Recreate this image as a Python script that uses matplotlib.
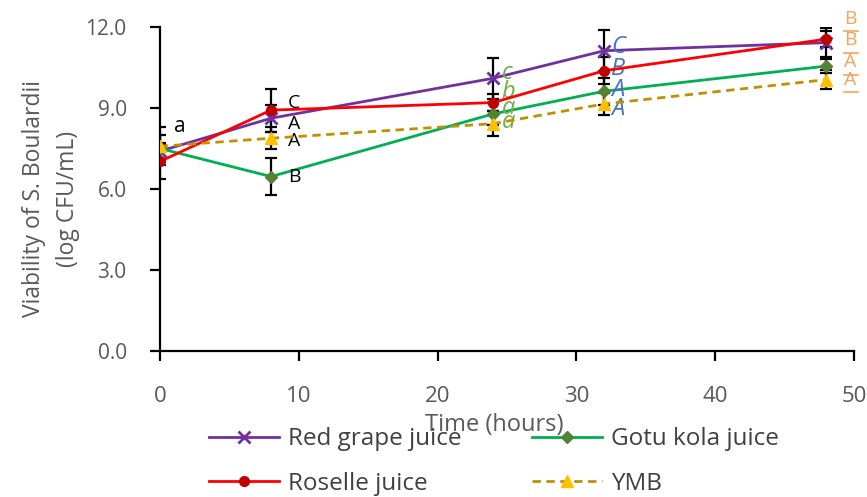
import matplotlib
matplotlib.use("Agg")
import matplotlib.pyplot as plt
import matplotlib.transforms as mtransforms
import numpy as np

plt.rcParams['font.family'] = ['Open Sans', 'DejaVu Sans']

time = [0, 8, 24, 32, 48]
red_grape = [7.4, 8.62, 10.1, 11.12, 11.42]
red_grape_err = [0.3, 0.5, 0.75, 0.75, 0.55]
roselle = [7.02, 8.92, 9.2, 10.38, 11.55]
roselle_err = [0.65, 0.8, 0.3, 0.5, 0.3]
gotu_kola = [7.5, 6.46, 8.78, 9.62, 10.55]
gotu_kola_err = [0.5, 0.7, 0.4, 0.5, 0.25]
ymb = [7.58, 7.88, 8.42, 9.15, 10.05]
ymb_err = [0.7, 0.4, 0.45, 0.4, 0.35]

labels_t8 = ["C", "A", "A", "B"]
labels_t8_y = [9.2, 8.4, 7.78, 6.45]
labels_t24 = ["c", "b", "a", "a"]
labels_t24_y = [10.3, 9.6, 9.0, 8.48]
labels_t32 = ["C", "B", "A", "A"]
labels_t32_y = [11.25, 10.45, 9.68, 8.95]
labels_t48 = ["B", "B", "A", "A"]
labels_t48_y = [12.3, 11.5, 10.7, 10.05]

fig = plt.figure(figsize=(8.67, 4.97), dpi=100)
ax = fig.add_axes([0.1845, 0.2938, 0.8005, 0.6519])

ebkw = dict(ecolor='black', elinewidth=1.6, capsize=4, capthick=1.6, zorder=2)
ax.errorbar(time, red_grape, yerr=red_grape_err, fmt='none', **ebkw)
ax.errorbar(time, roselle, yerr=roselle_err, fmt='none', **ebkw)
ax.errorbar(time, gotu_kola, yerr=gotu_kola_err, fmt='none', **ebkw)
ax.errorbar(time, ymb, yerr=ymb_err, fmt='none', **ebkw)

l1, = ax.plot(time, red_grape, color='#7030A0', lw=2, marker='x', ms=8, mew=2,
              label='Red grape juice', zorder=3)
l3, = ax.plot(time, gotu_kola, color='#00B050', lw=2, marker='D', ms=6,
              mfc='#548235', mec='#548235', label='Gotu kola juice', zorder=3)
l2, = ax.plot(time, roselle, color='#FF0000', lw=2, marker='o', ms=7,
              mfc='#C00000', mec='#C00000', label='Roselle juice', zorder=4)
l4, = ax.plot(time, ymb, color='#BF9000', lw=2, ls='--', dashes=(3, 2), marker='^', ms=8,
              mfc='#FFC000', mec='#FFC000', label='YMB', zorder=5)

ax.set_xlim(0, 50)
ax.set_ylim(0, 12)
ax.set_xticks([0, 10, 20, 30, 40, 50])
ax.set_yticks([0, 3, 6, 9, 12])
ax.set_yticklabels(['0.0', '3.0', '6.0', '9.0', '12.0'])
for s in ['top', 'right']:
    ax.spines[s].set_visible(False)
for s in ['left', 'bottom']:
    ax.spines[s].set_linewidth(1.6)
ax.tick_params(axis='both', colors='black', width=1.6, length=7,
               labelcolor='#595959')
ax.tick_params(axis='x', pad=18, labelsize=16)
ax.tick_params(axis='y', pad=17, labelsize=15)
ax.set_xlabel('Time (hours)', fontsize=17, color='#595959')
ax.xaxis.set_label_coords(0.481, -0.228)
ax.xaxis.label.set_va('center')
ax.set_ylabel('Viability of S. Boulardii\n(log CFU/mL)', fontsize=16.5, color='#595959',
              linespacing=1.55)
ax.yaxis.set_label_coords(-0.157, 0.47)
ax.yaxis.label.set_va('center')

ax.text(1.0, 8.3, 'a', fontsize=15, color='black', va='center', ha='left')
for t, yv in zip(labels_t8, labels_t8_y):
    ax.text(9.2, yv, t, fontsize=14, color='black', va='center', ha='left')
for t, yv in zip(labels_t24, labels_t24_y):
    ax.text(24.6, yv, t, fontsize=17, color='#70AD47', style='italic', va='center', ha='left')
for t, yv in zip(labels_t32, labels_t32_y):
    ax.text(32.5, yv, t, fontsize=17, color='#4472C4', style='italic', va='center', ha='left')
under = mtransforms.offset_copy(ax.transData, fig=fig, x=0, y=-9, units='points')
for t, yv in zip(labels_t48, labels_t48_y):
    ax.text(49.3, yv, t, fontsize=14, color='#F4A460', va='center', ha='left', clip_on=False)
    ax.plot([49.3, 50.3], [yv, yv], color='#F4A460', lw=1.2, transform=under, clip_on=False)

ax.legend(handles=[l1, l2, l3, l4], ncol=2, loc='upper left',
          bbox_to_anchor=(0.0706, -0.235), frameon=False, fontsize=17.5,
          borderpad=0, borderaxespad=0,
          handlelength=2.9, columnspacing=2.9, handletextpad=0.35,
          labelspacing=0.85, labelcolor='#404040')

fig.savefig('out.png', dpi=100)
